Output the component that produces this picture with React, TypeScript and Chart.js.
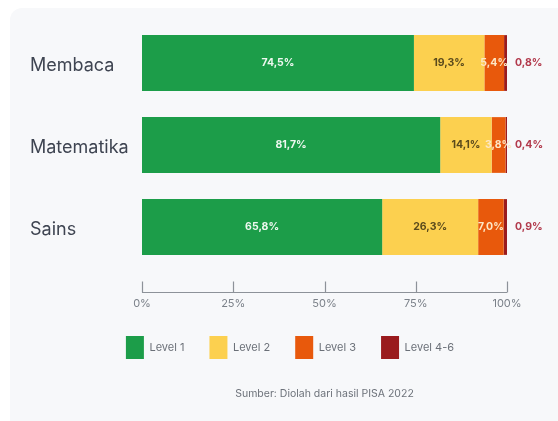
import React, { useEffect, useRef } from "react";
import { Chart, registerables } from "chart.js";

Chart.register(...registerables);

const categories = ["Membaca", "Matematika", "Sains"];
const seriesNames = ["Level 1", "Level 2", "Level 3", "Level 4-6"];
const level1 = [74.5, 81.7, 65.8];
const level2 = [19.3, 14.1, 26.3];
const level3 = [5.4, 3.8, 7.0];
const level46 = [0.8, 0.4, 0.9];
const xTickValues = [0, 25, 50, 75, 100];
const sourceText = "Sumber: Diolah dari hasil PISA 2022";

const barColors = ["#1c9d49", "#fcd04f", "#e8590c", "#9a1b1d"];
const labelColors = ["#eef8f0", "#5a4a1c", "#fde7c6", "#b23a4c"];
const FONT = "Inter, 'Noto Sans', sans-serif";

const fmt = (v: number) => v.toFixed(1).replace(".", ",") + "%";

const valueLabelPlugin = {
  id: "valueLabels",
  afterDatasetsDraw(chart: any) {
    const ctx = chart.ctx;
    ctx.save();
    ctx.font = `bold 10.5px ${FONT}`;
    ctx.textBaseline = "middle";
    chart.data.datasets.forEach((ds: any, di: number) => {
      const meta = chart.getDatasetMeta(di);
      meta.data.forEach((bar: any, i: number) => {
        const v = ds.data[i];
        ctx.fillStyle = labelColors[di];
        if (di === 3) {
          ctx.textAlign = "left";
          ctx.fillText(fmt(v), bar.x + 8, bar.y);
        } else {
          ctx.textAlign = "center";
          ctx.fillText(fmt(v), (bar.x + bar.base) / 2, bar.y);
        }
      });
    });
    ctx.restore();
  },
};

const axisLinePlugin = {
  id: "axisLine",
  afterDraw(chart: any) {
    const xs = chart.scales.x;
    const ctx = chart.ctx;
    const y = Math.round(chart.chartArea.bottom + 24) + 0.5;
    ctx.save();
    ctx.strokeStyle = "#8d9299";
    ctx.lineWidth = 1.2;
    ctx.beginPath();
    ctx.moveTo(xs.getPixelForValue(xTickValues[0]), y);
    ctx.lineTo(xs.getPixelForValue(xTickValues[xTickValues.length - 1]), y);
    xTickValues.forEach((v) => {
      const px = Math.round(xs.getPixelForValue(v)) + 0.5;
      ctx.moveTo(px, y);
      ctx.lineTo(px, y - 11);
    });
    ctx.stroke();
    ctx.restore();
  },
};

const captionPlugin = {
  id: "caption",
  afterDraw(chart: any) {
    const ctx = chart.ctx;
    const ca = chart.chartArea;
    ctx.save();
    ctx.font = `10.5px ${FONT}`;
    ctx.fillStyle = "#6d727a";
    ctx.textAlign = "center";
    ctx.textBaseline = "middle";
    ctx.fillText(sourceText, (ca.left + ca.right) / 2, chart.height - 27);
    ctx.restore();
  },
};

export default function App() {
  const ref = useRef<HTMLCanvasElement | null>(null);

  useEffect(() => {
    if (!ref.current) return;
    const seriesData = [level1, level2, level3, level46];
    const chart = new Chart(ref.current, {
      type: "bar",
      data: {
        labels: categories,
        datasets: seriesNames.map((name, i) => ({
          label: name,
          data: seriesData[i],
          backgroundColor: barColors[i],
          borderWidth: 0,
          barPercentage: 0.68,
          categoryPercentage: 1,
        })),
      },
      options: {
        indexAxis: "y",
        responsive: false,
        animation: false,
        devicePixelRatio: 1,
        layout: { padding: { left: 30, right: 8, top: 22, bottom: 52 } },
        plugins: {
          tooltip: { enabled: false },
          legend: {
            position: "bottom",
            labels: {
              boxWidth: 18,
              boxHeight: 23,
              padding: 25,
              color: "#6b7078",
              font: { family: FONT, size: 11 },
            },
          },
        },
        scales: {
          x: {
            stacked: true,
            min: 0,
            max: 100,
            grid: { display: false, drawTicks: false },
            border: { display: false },
            ticks: {
              stepSize: 25,
              padding: 29,
              color: "#7b8189",
              font: { family: FONT, size: 11 },
              callback: (v: any) => v + "%",
            },
            afterFit: (s: any) => {
              s.height = 43;
            },
          },
          y: {
            stacked: true,
            grid: { display: false, drawTicks: false },
            border: { display: false },
            ticks: {
              crossAlign: "far",
              labelOffset: 3,
              color: "#3e4451",
              font: { family: FONT, size: 18 },
            },
            afterFit: (s: any) => {
              s.width = 112;
            },
          },
          yRight: {
            type: "linear",
            position: "right",
            min: 0,
            max: 1,
            grid: { display: false, drawTicks: false },
            border: { display: false },
            ticks: { display: false },
            afterFit: (s: any) => {
              s.width = 43;
            },
          },
        },
      } as any,
      plugins: [valueLabelPlugin, axisLinePlugin, captionPlugin],
    });
    return () => chart.destroy();
  }, []);

  return (
    <div
      style={{
        position: "fixed",
        left: 0,
        top: 0,
        width: 558,
        height: 421,
        background: "#ffffff",
        overflow: "hidden",
      }}
    >
      <div
        style={{
          position: "absolute",
          left: 10,
          top: 8,
          width: 560,
          height: 430,
          background: "#f7f8fa",
          borderRadius: 12,
        }}
      />
      <canvas
        ref={ref}
        width={558}
        height={421}
        style={{ position: "absolute", left: 0, top: 0, width: 558, height: 421 }}
      />
    </div>
  );
}
